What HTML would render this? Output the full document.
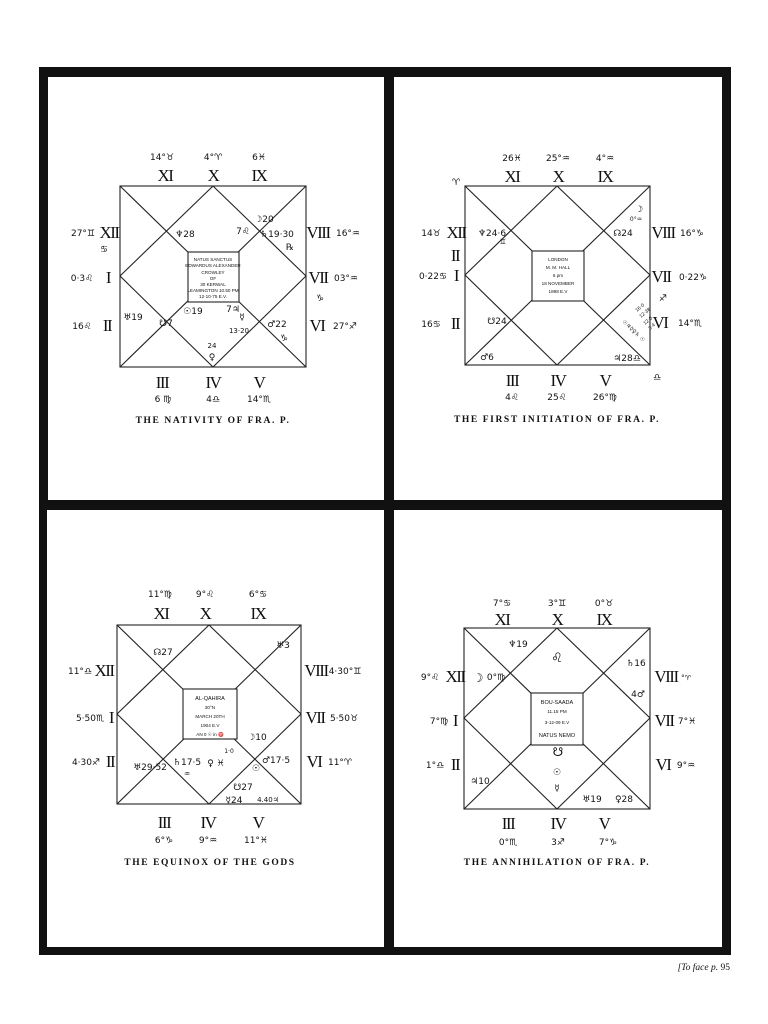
<!DOCTYPE html>
<html><head><meta charset="utf-8"><style>
html,body{margin:0;padding:0;background:#fff;}
svg{display:block}
text{font-family:"Liberation Serif","DejaVu Serif",serif;fill:#111;}
.r{font-size:17px;text-anchor:middle;letter-spacing:-1.5px}
.s{font-size:10px;text-anchor:middle;font-family:"DejaVu Sans","Liberation Sans",sans-serif}
.p{font-size:9px;text-anchor:middle;font-family:"DejaVu Sans","Liberation Sans",sans-serif}
.b{font-size:4.6px;text-anchor:middle;font-family:"Liberation Sans",sans-serif}
.c{font-size:9.5px;text-anchor:middle;letter-spacing:1.6px;font-weight:bold}
line,rect.ch{stroke:#222;stroke-width:1.1;fill:none}
</style></head><body>
<svg width="768" height="1024" viewBox="0 0 768 1024" xmlns="http://www.w3.org/2000/svg">
<rect x="0" y="0" width="768" height="1024" fill="#fff"/>
<rect x="39" y="67" width="692" height="888" fill="#111"/>
<rect x="48" y="77" width="336" height="423" fill="#fff"/>
<rect x="394" y="77" width="328" height="423" fill="#fff"/>
<rect x="47" y="510" width="337" height="437" fill="#fff"/>
<rect x="394" y="510" width="328" height="437" fill="#fff"/>

<!-- Chart 1 -->
<g>
<rect class="ch" x="120" y="186" width="186" height="181"/>
<line x1="120" y1="186" x2="306" y2="367"/><line x1="306" y1="186" x2="120" y2="367"/>
<line x1="213" y1="186" x2="306" y2="276"/><line x1="306" y1="276" x2="213" y2="367"/>
<line x1="213" y1="367" x2="120" y2="276"/><line x1="120" y1="276" x2="213" y2="186"/>
<rect x="188" y="252" width="51" height="50" fill="#fff" stroke="#222" stroke-width="1.1"/>
<text class="b" x="213" y="261">NATUS SANCTUS</text>
<text class="b" x="213" y="267">EDWARDUS ALEXANDER</text>
<text class="b" x="213" y="274">CROWLEY</text>
<text class="b" x="213" y="280">OF</text>
<text class="b" x="213" y="286">30 KERWAL</text>
<text class="b" x="213" y="292">LEAMINGTON 10.50 PM</text>
<text class="b" x="213" y="298">12·10·75 E.V.</text>
<text class="p" x="162" y="160">14°♉</text><text class="p" x="213" y="160">4°♈</text><text class="p" x="259" y="160">6♓</text>
<text class="r" x="165" y="181">XI</text><text class="r" x="213" y="181">X</text><text class="r" x="259" y="181">IX</text>
<text class="p" x="83" y="236">27°♊</text><text class="r" x="109" y="238">XII</text><text class="p" x="104" y="252">♋</text>
<text class="p" x="82" y="281">0·3♌</text><text class="r" x="108" y="283">I</text>
<text class="p" x="82" y="329">16♌</text><text class="r" x="107" y="331">II</text>
<text class="r" x="318" y="238">VIII</text><text class="p" x="348" y="236">16°♒</text>
<text class="r" x="318" y="283">VII</text><text class="p" x="346" y="281">03°♒</text><text class="p" x="320" y="301">♑</text>
<text class="r" x="317" y="331">VI</text><text class="p" x="345" y="329">27°♐</text>
<text class="r" x="162" y="388">III</text><text class="r" x="213" y="388">IV</text><text class="r" x="259" y="388">V</text>
<text class="p" x="163" y="402">6 ♍</text><text class="p" x="213" y="402">4♎</text><text class="p" x="259" y="402">14°♏</text>
<text class="p" x="185" y="237">♆28</text><text class="p" x="243" y="234">7♌</text><text class="p" x="264" y="222">☽20</text>
<text class="p" x="277" y="237">♄19·30</text><text class="p" x="290" y="250">℞</text>
<text class="p" x="133" y="320">♅19</text><text class="p" x="166" y="326">☋7</text><text class="p" x="193" y="314">☉19</text>
<text class="p" x="233" y="312">7♃</text><text class="p" x="242" y="320">☿</text><text class="p" x="239" y="333" style="font-size:7px">13·20</text>
<text class="p" x="277" y="327">♂22</text><text class="p" x="284" y="341">♑</text>
<text class="p" x="212" y="348" style="font-size:7px">24</text><text class="p" x="212" y="360">♀</text>
<text class="c" x="213" y="423">THE NATIVITY OF FRA. P.</text>
</g>

<!-- Chart 2 -->
<g>
<rect class="ch" x="465" y="186" width="185" height="179"/>
<line x1="465" y1="186" x2="650" y2="365"/><line x1="650" y1="186" x2="465" y2="365"/>
<line x1="557" y1="186" x2="650" y2="275"/><line x1="650" y1="275" x2="557" y2="365"/>
<line x1="557" y1="365" x2="465" y2="275"/><line x1="465" y1="275" x2="557" y2="186"/>
<rect x="532" y="251" width="52" height="50" fill="#fff" stroke="#222" stroke-width="1.1"/>
<text class="b" x="558" y="261">LONDON</text>
<text class="b" x="558" y="269">M. M. HALL</text>
<text class="b" x="558" y="277">6 pm</text>
<text class="b" x="558" y="285">18 NOVEMBER</text>
<text class="b" x="558" y="293">1898 E.V</text>
<text class="p" x="512" y="161">26♓</text><text class="p" x="558" y="161">25°♒</text><text class="p" x="605" y="161">4°♒</text>
<text class="r" x="512" y="182">XI</text><text class="r" x="558" y="182">X</text><text class="r" x="605" y="182">IX</text>
<text class="p" x="456" y="185">♈</text>
<text class="p" x="431" y="236">14♉</text><text class="r" x="456" y="238">XII</text><text class="r" x="455" y="261">II</text>
<text class="p" x="433" y="279">0·22♋</text><text class="r" x="456" y="281">I</text>
<text class="p" x="431" y="327">16♋</text><text class="r" x="455" y="329">II</text>
<text class="r" x="663" y="238">VIII</text><text class="p" x="692" y="236">16°♑</text>
<text class="r" x="661" y="282">VII</text><text class="p" x="693" y="280">0·22♑</text><text class="p" x="663" y="301">♐</text>
<text class="r" x="660" y="328">VI</text><text class="p" x="690" y="326">14°♏</text><text class="p" x="657" y="380">♎</text>
<text class="r" x="512" y="386">III</text><text class="r" x="558" y="386">IV</text><text class="r" x="605" y="386">V</text>
<text class="p" x="512" y="400">4♌</text><text class="p" x="557" y="400">25♌</text><text class="p" x="605" y="400">26°♍</text>
<text class="p" x="492" y="236">♆24·6</text><text class="p" x="503" y="244" style="font-size:7px">♊</text>
<text class="p" x="623" y="236">☊24</text><text class="p" x="639" y="212">☽</text><text class="p" x="636" y="221" style="font-size:6px">0°♒</text>
<text class="p" x="497" y="324">☋24</text><text class="p" x="487" y="360">♂6</text><text class="p" x="627" y="361">♃28♎</text>
<g transform="translate(622,322) rotate(44)"><text x="0" y="0" style="font-size:5.5px;font-family:'DejaVu Sans',sans-serif">☉♃☿♀♄ ☉</text></g>
<text x="637" y="312" style="font-size:5px;font-family:'Liberation Sans'" transform="rotate(-40 637 312)">16·0</text>
<text x="641" y="318" style="font-size:5px;font-family:'Liberation Sans'" transform="rotate(-40 641 318)">12·38</text>
<text x="645" y="325" style="font-size:5px;font-family:'Liberation Sans'" transform="rotate(-40 645 325)">12·0</text>
<text x="650" y="330" style="font-size:5px;font-family:'Liberation Sans'" transform="rotate(-40 650 330)">3·4</text>
<text class="c" x="557" y="422">THE FIRST INITIATION OF FRA. P.</text>
</g>

<!-- Chart 3 -->
<g>
<rect class="ch" x="117" y="625" width="184" height="179"/>
<line x1="117" y1="625" x2="301" y2="804"/><line x1="301" y1="625" x2="117" y2="804"/>
<line x1="209" y1="625" x2="301" y2="714"/><line x1="301" y1="714" x2="209" y2="804"/>
<line x1="209" y1="804" x2="117" y2="714"/><line x1="117" y1="714" x2="209" y2="625"/>
<rect x="183" y="689" width="54" height="50" fill="#fff" stroke="#222" stroke-width="1.1"/>
<text class="b" x="210" y="700" style="font-size:5.5px">AL-QAHIRA</text>
<text class="b" x="210" y="709">30°N</text>
<text class="b" x="210" y="718">MARCH 20TH</text>
<text class="b" x="210" y="727">1904 E.V</text>
<text class="b" x="210" y="736">AN 0 ☉ in ♈</text>
<text class="p" x="160" y="597">11°♍</text><text class="p" x="205" y="597">9°♌</text><text class="p" x="258" y="597">6°♋</text>
<text class="r" x="161" y="619">XI</text><text class="r" x="205" y="619">X</text><text class="r" x="258" y="619">IX</text>
<text class="p" x="80" y="674">11°♎</text><text class="r" x="104" y="676">XII</text>
<text class="p" x="90" y="721">5·50♏</text><text class="r" x="111" y="723">I</text>
<text class="p" x="86" y="765">4·30♐</text><text class="r" x="110" y="767">II</text>
<text class="r" x="316" y="676">VIII</text><text class="p" x="345" y="674">4·30°♊</text>
<text class="r" x="315" y="723">VII</text><text class="p" x="344" y="721">5·50♉</text>
<text class="r" x="314" y="767">VI</text><text class="p" x="340" y="765">11°♈</text>
<text class="r" x="164" y="828">III</text><text class="r" x="208" y="828">IV</text><text class="r" x="258" y="828">V</text>
<text class="p" x="164" y="843">6°♑</text><text class="p" x="208" y="843">9°♒</text><text class="p" x="256" y="843">11°♓</text>
<text class="p" x="163" y="655">☊27</text><text class="p" x="283" y="648">♅3</text>
<text class="p" x="257" y="740">☽10</text><text class="p" x="150" y="770">♅29·52</text>
<text class="p" x="187" y="765">♄17·5</text><text class="p" x="187" y="776" style="font-size:7px">♒</text>
<text class="p" x="216" y="766">♀ ♓</text><text class="p" x="229" y="753" style="font-size:6px">1·0</text>
<text class="p" x="276" y="763">♂17·5</text><text class="p" x="256" y="771">☉</text>
<text class="p" x="243" y="790">☋27</text><text class="p" x="234" y="803">☿24</text><text class="p" x="268" y="802" style="font-size:7px">4.40♃</text>
<text class="c" x="210" y="865">THE EQUINOX OF THE GODS</text>
</g>

<!-- Chart 4 -->
<g>
<rect class="ch" x="464" y="628" width="186" height="181"/>
<line x1="464" y1="628" x2="650" y2="809"/><line x1="650" y1="628" x2="464" y2="809"/>
<line x1="557" y1="628" x2="650" y2="718"/><line x1="650" y1="718" x2="557" y2="809"/>
<line x1="557" y1="809" x2="464" y2="718"/><line x1="464" y1="718" x2="557" y2="628"/>
<rect x="531" y="693" width="52" height="52" fill="#fff" stroke="#222" stroke-width="1.1"/>
<text class="b" x="557" y="704" style="font-size:5.5px">BOU-SAADA</text>
<text class="b" x="557" y="713">11.15 PM</text>
<text class="b" x="557" y="724">3-12-09 E.V</text>
<text class="b" x="557" y="737" style="font-size:5.5px">NATUS NEMO</text>
<text class="p" x="502" y="606">7°♋</text><text class="p" x="557" y="606">3°♊</text><text class="p" x="604" y="606">0°♉</text>
<text class="r" x="502" y="625">XI</text><text class="r" x="557" y="625">X</text><text class="r" x="604" y="625">IX</text>
<text class="p" x="430" y="680">9°♌</text><text class="r" x="455" y="682">XII</text>
<text class="p" x="439" y="724">7°♍</text><text class="r" x="455" y="726">I</text>
<text class="p" x="435" y="768">1°♎</text><text class="r" x="455" y="770">II</text>
<text class="r" x="666" y="682">VIII</text><text class="p" x="686" y="680" style="font-size:7px">°♈</text>
<text class="r" x="664" y="726">VII</text><text class="p" x="687" y="724">7°♓</text>
<text class="r" x="663" y="770">VI</text><text class="p" x="686" y="768">9°♒</text>
<text class="r" x="508" y="829">III</text><text class="r" x="558" y="829">IV</text><text class="r" x="604" y="829">V</text>
<text class="p" x="508" y="845">0°♏</text><text class="p" x="558" y="845">3♐</text><text class="p" x="608" y="845">7°♑</text>
<text class="p" x="518" y="647">♆19</text><text class="p" x="557" y="662" style="font-size:13px">♌</text>
<text class="p" x="636" y="666">♄16</text><text class="p" x="638" y="697">4♂</text>
<text class="p" x="478" y="682" style="font-size:12px">☽</text><text class="p" x="496" y="680">0°♍</text>
<text class="p" x="480" y="784">♃10</text><text class="p" x="558" y="756" style="font-size:12px">☋</text>
<text class="p" x="557" y="775">☉</text><text class="p" x="557" y="791">☿</text>
<text class="p" x="592" y="802">♅19</text><text class="p" x="624" y="802">♀28</text>
<text class="c" x="557" y="865">THE ANNIHILATION OF FRA. P.</text>
</g>

<text x="730" y="970" style="font-size:9.5px;text-anchor:end;font-style:italic">[To face p. <tspan style="font-style:normal">95</tspan></text>
</svg>
</body></html>
